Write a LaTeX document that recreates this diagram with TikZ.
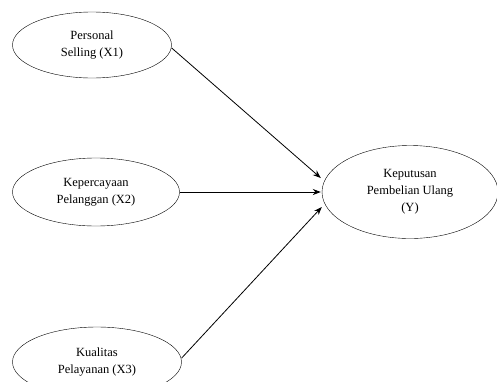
\documentclass[tikz,border=0pt]{standalone}
\usepackage{fontspec}
\setmainfont{Liberation Serif}
\usetikzlibrary{shapes.geometric,arrows.meta}

\begin{document}
\begin{tikzpicture}[x=1pt,y=-1pt,
	var/.style={ellipse,draw,thin,inner sep=0pt,align=center,
		font=\fontsize{12.5}{17}\selectfont},
	path/.style={-{Stealth[length=8pt,width=6pt]},thick}]
\useasboundingbox (0,0) rectangle (497,381);
\node[var,minimum width=159,minimum height=66] (x1) at (92,45) {Personal\\Selling (X1)};
\node[var,minimum width=167,minimum height=68] (x2) at (96,192) {Kepercayaan\\Pelanggan (X2)};
\node[var,minimum width=169,minimum height=70] (x3) at (97,362) {Kualitas\\Pelayanan (X3)};
\node[var,minimum width=176,minimum height=93] (y) at (410,192) {Keputusan\\Pembelian Ulang\\(Y)};
\draw[path] ([yshift=-3pt]x1.east) -- ([xshift=-1pt,yshift=14pt]y.west);
\draw[path] (x2.east) -- ([xshift=-1pt]y.west);
\draw[path] ([yshift=4pt]x3.east) -- ([yshift=-15pt]y.west);
\end{tikzpicture}
\end{document}
